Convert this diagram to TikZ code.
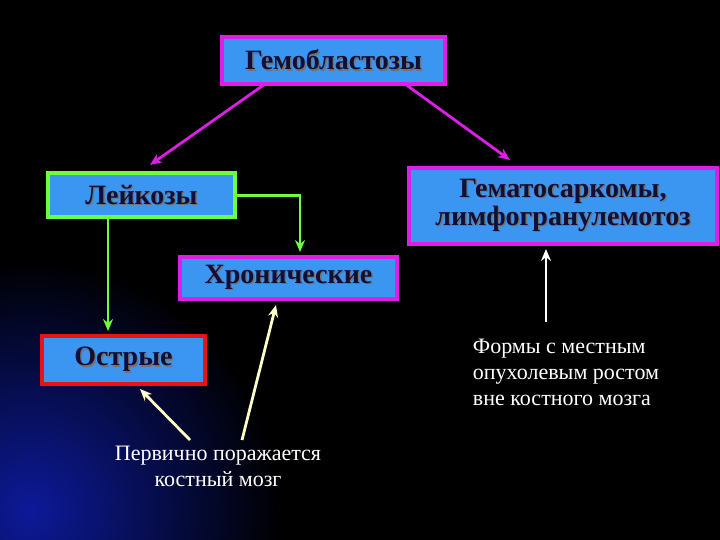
\documentclass[tikz,border=0pt]{standalone}
\usepackage{fontspec}
\setmainfont{Liberation Serif}
\usetikzlibrary{arrows.meta}
\begin{document}
\begin{tikzpicture}[x=1pt,y=-1pt,
  box/.style={fill=boxblue,line width=4pt,minimum height=44pt,inner sep=0pt,font=\bfseries\fontsize{28}{30}\selectfont,text=navy},
  arr/.style={line width=2.8pt,-{Stealth[length=12pt,width=10pt]}},
  note/.style={text=white,font=\fontsize{22}{26}\selectfont,align=center}]
\definecolor{boxblue}{RGB}{58,150,240}
\definecolor{navy}{RGB}{15,15,55}
\definecolor{mag}{RGB}{220,30,230}
\definecolor{grn}{RGB}{110,255,60}
\definecolor{rd}{RGB}{230,20,20}
\definecolor{cream}{RGB}{255,255,200}
\useasboundingbox (0,0) rectangle (720,540);
\begin{scope}
\clip (0,0) rectangle (720,540);
\fill[black] (0,0) rectangle (720,540);
\shade[inner color={rgb,1:red,0.05;green,0.1;blue,0.6},outer color=black] (30,510) circle (250);
\end{scope}
\newcommand\sh[1]{\makebox[0pt][l]{\kern1.5pt\raisebox{-1.5pt}{\color{black!55}#1}}#1}
\node[box,draw=mag,minimum width=223pt,minimum height=47pt] (g) at (333.5,60.5) {\sh{Гемобластозы}};
\node[box,draw=grn,minimum width=187pt] (l) at (141.5,195.5) {\sh{Лейкозы}};
\node[box,draw=mag,minimum width=217pt,minimum height=42pt] (h) at (288.5,278) {\sh{Хронические}};
\node[box,draw=rd,minimum width=163pt,minimum height=48pt] (o) at (123.5,360) {\sh{Острые}};
\node[box,draw=mag,minimum width=308pt,minimum height=76pt,align=center] (s) at (563,206) {\sh{Гематосаркомы,}\\[-2pt]\sh{лимфогранулемотоз}};
\node[note,align=left] (n1) at (566,372) {Формы с местным\\опухолевым ростом\\вне костного мозга};
\node[note] (n2) at (218,466) {Первично поражается\\костный мозг};
\coordinate (a1) at (150,165);
\coordinate (a2) at (510,160);
\coordinate (g1) at (265,84);
\coordinate (g2) at (405,84);
\coordinate (c1) at (242,440);
\coordinate (c2) at (190,440);
\coordinate (w1) at (546,322);
\coordinate (w2) at (546,249);
\draw[arr,mag] (g1) -- (a1);
\draw[arr,mag] (g2) -- (a2);
\draw[arr,grn] (l.east) -| (300,252);
\draw[arr,grn] (108,217) -- (108,331);
\draw[arr,cream] (c1) -- (276,305);
\draw[arr,cream] (c2) -- (140,389);
\draw[arr,white] (w1) -- (w2);
\end{tikzpicture}
\end{document}
